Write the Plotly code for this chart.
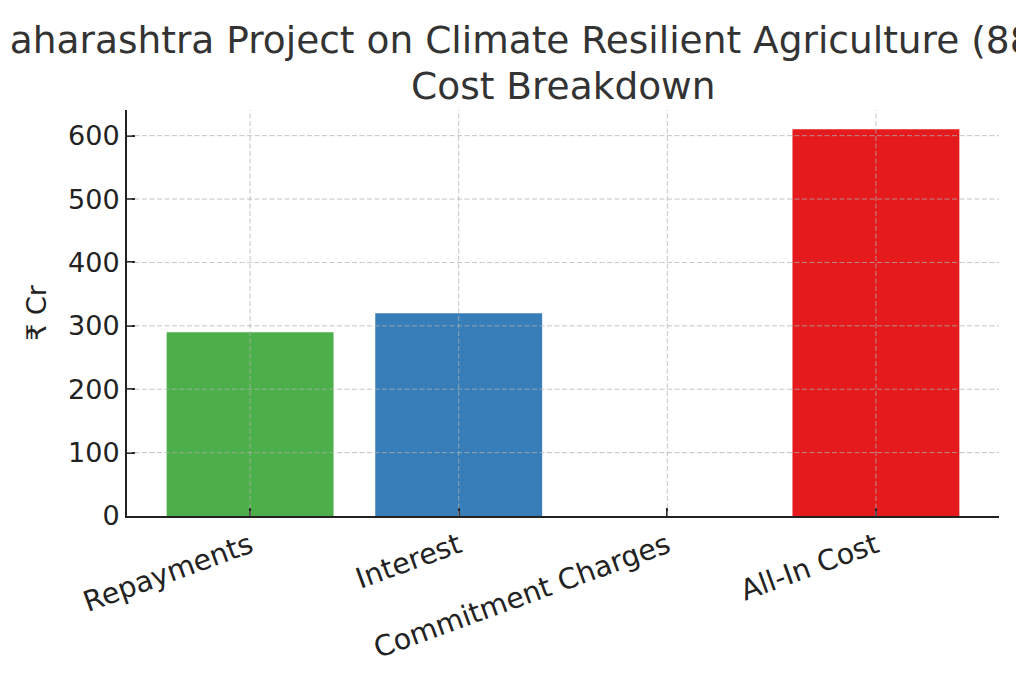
import plotly.graph_objects as go

# cost breakdown values in ₹ Cr
categories = ["Repayments", "Interest", "Commitment Charges", "All-In Cost"]
values = [290, 320, 0, 610]
bar_colors = ["#4daf4a", "#377eb8", "#984ea3", "#e41a1c"]
y_ticks = [0, 100, 200, 300, 400, 500, 600]

title_line1 = "Maharashtra Project on Climate Resilient Agriculture (8845-IN)"
title_line2 = "Cost Breakdown"

fig = go.Figure(
    go.Bar(
        x=categories,
        y=values,
        marker=dict(color=bar_colors, line=dict(width=0)),
        width=0.8,
    )
)

grid_style = dict(color="rgba(176,176,176,0.75)", width=1, dash="5px,2.5px")

# matplotlib draws the grid over the bars, so use shapes on top
for t in y_ticks[1:]:
    fig.add_hline(y=t, line=grid_style, layer="above")
for c in categories:
    fig.add_vline(x=c, line=grid_style, layer="above")

# page has an 8px body margin, margins below account for it
fig.update_layout(
    width=1024,
    height=683,
    margin=dict(l=119, r=33, t=102, b=175),
    paper_bgcolor="white",
    plot_bgcolor="white",
    font=dict(family="DejaVu Sans", size=27, color="#222222"),
    showlegend=False,
    title=dict(
        text=title_line1,
        x=0.5,
        xref="paper",
        xanchor="center",
        y=1 - 32 / 683,
        yref="container",
        yanchor="middle",
        font=dict(size=37.5, color="#333333"),
    ),
)

fig.add_annotation(
    text=title_line2,
    x=0.5,
    xref="paper",
    xanchor="center",
    y=1.059,
    yref="paper",
    yanchor="middle",
    showarrow=False,
    font=dict(size=37.5, color="#333333"),
)

fig.update_xaxes(
    range=[-0.59, 3.59],
    tickangle=-20,
    ticks="inside",
    ticklen=8,
    tickwidth=2,
    tickcolor="#222222",
    showline=True,
    linecolor="#222222",
    linewidth=2,
    showgrid=False,
    tickfont=dict(size=28.5),
)

fig.update_yaxes(
    range=[0, 640.5],
    tickvals=y_ticks,
    ticks="inside",
    ticklen=8,
    tickwidth=2,
    tickcolor="#222222",
    showline=True,
    linecolor="#222222",
    linewidth=2,
    showgrid=False,
    zeroline=False,
    title=dict(text="₹ Cr", font=dict(size=27), standoff=14),
    tickfont=dict(size=27),
)

fig.write_html("out.html")
